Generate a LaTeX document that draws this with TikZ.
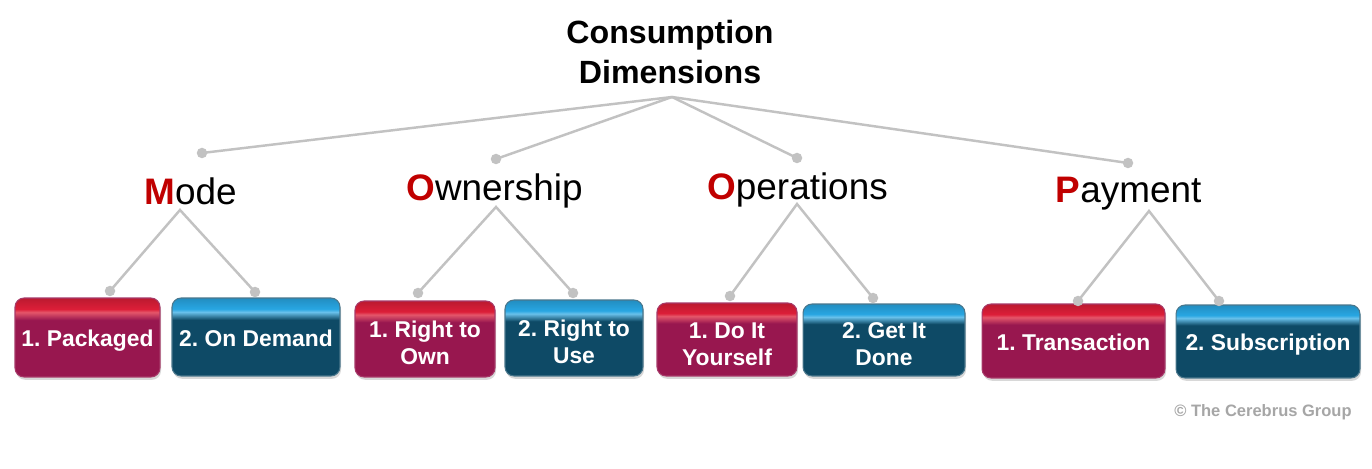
\documentclass[tikz,border=0pt]{standalone}
\usepackage{fontspec}
\setmainfont{Liberation Sans}
\usetikzlibrary{shadows}
\frenchspacing
\definecolor{lineGray}{HTML}{C2C2C2}
\definecolor{redFill}{HTML}{98174F}
\definecolor{redTop}{HTML}{DC1E38}
\definecolor{blueFill}{HTML}{0E4A66}
\definecolor{blueTop}{HTML}{28A6E2}
\definecolor{letterRed}{HTML}{C00000}
\definecolor{copyGray}{HTML}{A6A6A6}
\pgfdeclareverticalshading{redgloss}{100bp}{color(0bp)=(redFill); color(25bp)=(redFill); color(61bp)=(redFill); color(66bp)=(redTop!75!white); color(68bp)=(redTop); color(75bp)=(redTop!85!black); color(100bp)=(redTop!85!black)}
\pgfdeclareverticalshading{bluegloss}{100bp}{color(0bp)=(blueFill); color(25bp)=(blueFill); color(61bp)=(blueFill); color(66bp)=(blueTop!70!white); color(68bp)=(blueTop); color(75bp)=(blueTop!85!black); color(100bp)=(blueTop!85!black)}
\newcommand\boxtext[2][-2.3pt]{\raisebox{#1}[\height][\depth]{\begin{tabular}{@{}c@{}}#2\end{tabular}}}
\tikzset{
  conn/.style={draw=lineGray, line width=1.4pt},
  dot/.style={circle, fill=lineGray, inner sep=0pt, minimum size=0.21cm},
  box/.style={rounded corners=0.18cm, inner sep=2pt, text=white,
    font=\bfseries\fontsize{13}{15.4}\selectfont,
    drop shadow={shadow xshift=0.6pt, shadow yshift=-1.6pt, opacity=0.3}},
  redbox/.style={box, shading=redgloss, draw=redFill!85!white, line width=0.6pt},
  bluebox/.style={box, shading=bluegloss, draw=blueFill!75!white, line width=0.6pt},
  cat/.style={anchor=base, inner sep=0pt, font=\fontsize{21}{25}\selectfont}
}
\begin{document}
\begin{tikzpicture}[x=0.02cm, y=-0.02cm]
\useasboundingbox[fill=white] (0,0) rectangle (1372,469);

% title
\node[align=center, inner sep=0pt, font=\bfseries\fontsize{18.3}{22.8}\selectfont]
  (title) at (670,52) {Consumption\\Dimensions};
\coordinate (root) at (672,97);

% first level dots
\node[dot] (dm) at (202,153) {};
\node[dot] (dow) at (496,159) {};
\node[dot] (dop) at (797,158) {};
\node[dot] (dpa) at (1128,163) {};

\draw[conn] (root) -- (dm.center);
\draw[conn] (root) -- (dow.center);
\draw[conn] (root) -- (dop.center);
\draw[conn] (root) -- (dpa.center);

% categories
\node[cat] (mode) at (190.5,205) {\textcolor{letterRed}{\bfseries M}ode};
\node[cat] (own) at (494.5,201) {\textcolor{letterRed}{\bfseries O}wnership};
\node[cat] (ops) at (797.5,200) {\textcolor{letterRed}{\bfseries O}perations};
\node[cat] (pay) at (1128.5,203) {\textcolor{letterRed}{\bfseries P}ayment};

\coordinate (am) at (180,210);
\coordinate (aow) at (496,207);
\coordinate (aop) at (797,204);
\coordinate (apa) at (1149,211);

% boxes
\node[redbox, minimum width=2.9cm, minimum height=1.58cm] (b1) at (87.5,337.5) {\boxtext{1. Packaged}};
\node[bluebox, minimum width=3.36cm, minimum height=1.56cm] (b2) at (256,337) {\boxtext{2. On Demand}};
\node[redbox, minimum width=2.8cm, minimum height=1.52cm] (b3) at (425,339) {\boxtext[-4pt]{1. Right to\\Own}};
\node[bluebox, minimum width=2.76cm, minimum height=1.52cm] (b4) at (574,338) {\boxtext[-4pt]{2. Right to\\Use}};
\node[redbox, minimum width=2.8cm, minimum height=1.46cm] (b5) at (727,339.5) {\boxtext[-4pt]{1. Do It\\Yourself}};
\node[bluebox, minimum width=3.24cm, minimum height=1.44cm] (b6) at (884,340) {\boxtext[-4pt]{2. Get It\\Done}};
\node[redbox, minimum width=3.66cm, minimum height=1.48cm] (b7) at (1073.5,341) {\boxtext{1. Transaction}};
\node[bluebox, minimum width=3.68cm, minimum height=1.46cm] (b8) at (1268,341.5) {\boxtext{2. Subscription}};

% second level dots
\node[dot] (e1) at (110,291) {};
\node[dot] (e2) at (255,292) {};
\node[dot] (e3) at (418,293) {};
\node[dot] (e4) at (573,293) {};
\node[dot] (e5) at (730,296) {};
\node[dot] (e6) at (873,298) {};
\node[dot] (e7) at (1078,301) {};
\node[dot] (e8) at (1219,301) {};

\draw[conn] (e1.center) -- (am) -- (e2.center);
\draw[conn] (e3.center) -- (aow) -- (e4.center);
\draw[conn] (e5.center) -- (aop) -- (e6.center);
\draw[conn] (e7.center) -- (apa) -- (e8.center);

% copyright
\node[anchor=base east, inner sep=0pt, text=copyGray,
  font=\bfseries\fontsize{9.4}{11}\selectfont] (copy) at (1352,417) {© The Cerebrus Group};
\end{tikzpicture}
\end{document}
